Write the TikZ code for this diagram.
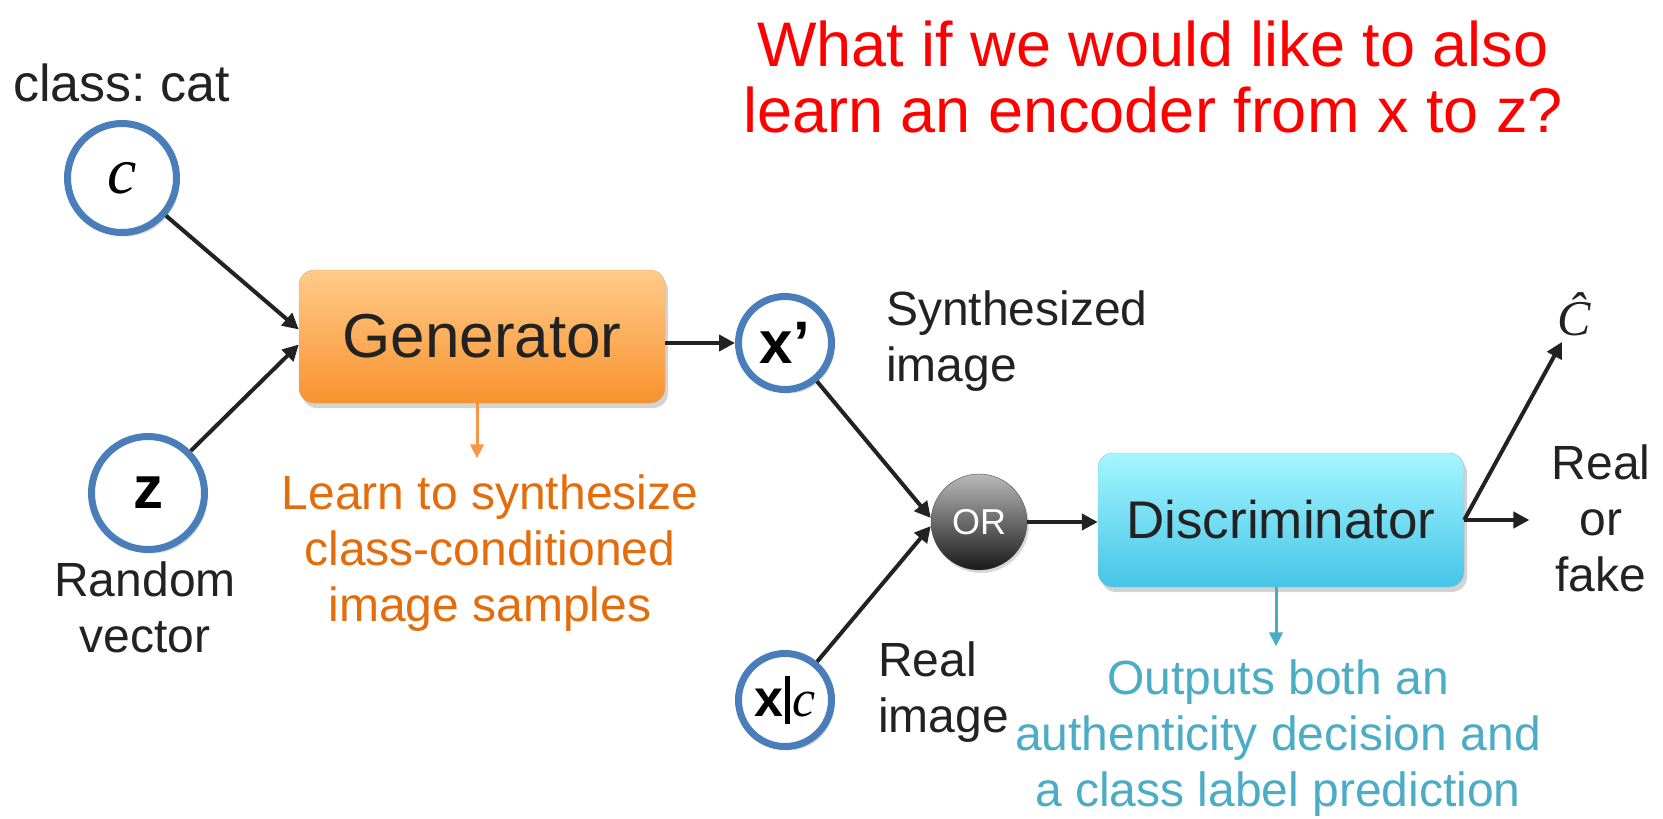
\documentclass[tikz,border=0pt]{standalone}
\usepackage{fontspec}
\setmainfont{Liberation Sans}
\newfontfamily\mserif{Liberation Serif}
\usetikzlibrary{arrows.meta,shadows}
\definecolor{cblue}{HTML}{4A7EBB}
\definecolor{otext}{HTML}{E46C0A}
\definecolor{oarrow}{HTML}{F79646}
\definecolor{ctext}{HTML}{4BACC6}
\definecolor{ink}{HTML}{222222}
\definecolor{gtop}{HTML}{FFCB8A}
\definecolor{gbot}{HTML}{F8922E}
\definecolor{dtop}{HTML}{A4F6FF}
\definecolor{dbot}{HTML}{46C4E6}
\tikzset{
  circ/.style={circle, draw=cblue, line width=7pt, fill=white, inner sep=0pt,
    drop shadow={opacity=0.3, shadow xshift=3pt, shadow yshift=-4pt}},
  box/.style={rectangle, rounded corners=15pt, minimum width=366pt, inner sep=0pt,
    drop shadow={opacity=0.35, shadow xshift=3pt, shadow yshift=-5pt}},
  lbl/.style={inner sep=0pt, text=ink, font=\fontsize{48}{56}\selectfont},
  arr/.style={draw=ink, line width=4pt, -{Triangle[length=16pt,width=16pt]}},
  oarr/.style={draw=oarrow, line width=3pt, -{Triangle[length=14pt,width=13pt]}},
  carr/.style={draw=ctext, line width=3pt, -{Triangle[length=14pt,width=13pt]}},
}
\begin{document}
\frenchspacing
\begin{tikzpicture}[x=1pt,y=-1pt]
\useasboundingbox (0,0) rectangle (1663,819);
% title
\node[inner sep=0pt, text=red, align=center, font=\fontsize{63}{66}\selectfont] (title) at (1153,77)
  {What if we would like to also\\learn an encoder from x to z?};
% inputs
\node[lbl, anchor=base west, font=\fontsize{52}{60}\selectfont] (cls) at (13,101) {class: cat};
\node[circ, minimum size=109pt] (c) at (122,178) {\mserif\itshape\fontsize{66}{66}\selectfont c};
\node[circ, minimum size=113pt] (z) at (148,493) {\fontsize{60}{60}\selectfont\bfseries z};
\node[lbl, align=center] (rv) at (145,607) {Random\\vector};
% generator
\node[box, minimum height=133pt, top color=gtop, bottom color=gbot, draw=gbot!80!black!60,
  text=ink, font=\fontsize{62}{62}\selectfont] (gen) at (482,336.5) {Generator};
\node[lbl, align=center, text=otext] (learn) at (490,553)
  {Learn to synthesize\\class-conditioned\\image samples};
% x' and real
\node[circ, minimum size=93pt] (xp) at (785,343) {\fontsize{60}{60}\selectfont\bfseries x’};
\node[lbl, align=left, anchor=west] (syn) at (886,341) {Synthesized\\image};
\node[circ, minimum size=93pt] (xc) at (785,700) {\fontsize{52}{52}\selectfont\textbf{x}\hspace{2pt}\rule[-8pt]{5pt}{48pt}\hspace{2pt}{\mserif\itshape c}};
\node[lbl, align=left, anchor=west] (real) at (878,692) {Real\\image};
% OR
\node[circle, minimum size=96pt, inner sep=0pt, top color=gray!55, bottom color=black!90,
  draw=black!70, text=white, font=\fontsize{36}{36}\selectfont,
  drop shadow={opacity=0.3, shadow xshift=2pt, shadow yshift=-3pt}] (orn) at (979,522) {OR};
% discriminator
\node[box, minimum height=134pt, top color=dtop, bottom color=dbot, draw=dbot!80!black!60,
  text=ink, font=\fontsize{53}{53}\selectfont] (disc) at (1281,520) {Discriminator};
\node[lbl, align=center, text=ctext] (outp) at (1278,738)
  {Outputs both an\\authenticity decision and\\a class label prediction};
% outputs
\node[lbl, align=center] (rf) at (1601,518) {Real\\or\\fake};
\node[inner sep=0pt, text=ink] (chat) at (1574,314) {\mserif\itshape\fontsize{50}{50}\selectfont Ĉ};
% connectors
\draw[arr] (c) -- ([yshift=7pt]gen.west);
\draw[arr] (z) -- ([yshift=-8pt]gen.west);
\draw[arr] (gen.east |- xp.west) -- (xp.west);
\draw[arr] (xp) -- ([yshift=4pt]orn.west);
\draw[arr] (xc) -- ([yshift=-4pt]orn.west);
\draw[arr] (orn.east) -- (orn.east -| disc.west);
\draw[arr] (disc.east) -- ([xshift=-22pt]disc.east -| rf.west);
\draw[arr] (disc.east) -- ([xshift=-12pt,yshift=-6pt]chat.south);
\draw[oarr] ([xshift=-5pt]gen.south) -- ([xshift=-5pt,yshift=16pt]gen.south |- learn.north);
\draw[carr] ([xshift=-5pt]disc.south) -- ([xshift=-5pt,yshift=13pt]disc.south |- outp.north);
\end{tikzpicture}
\end{document}
